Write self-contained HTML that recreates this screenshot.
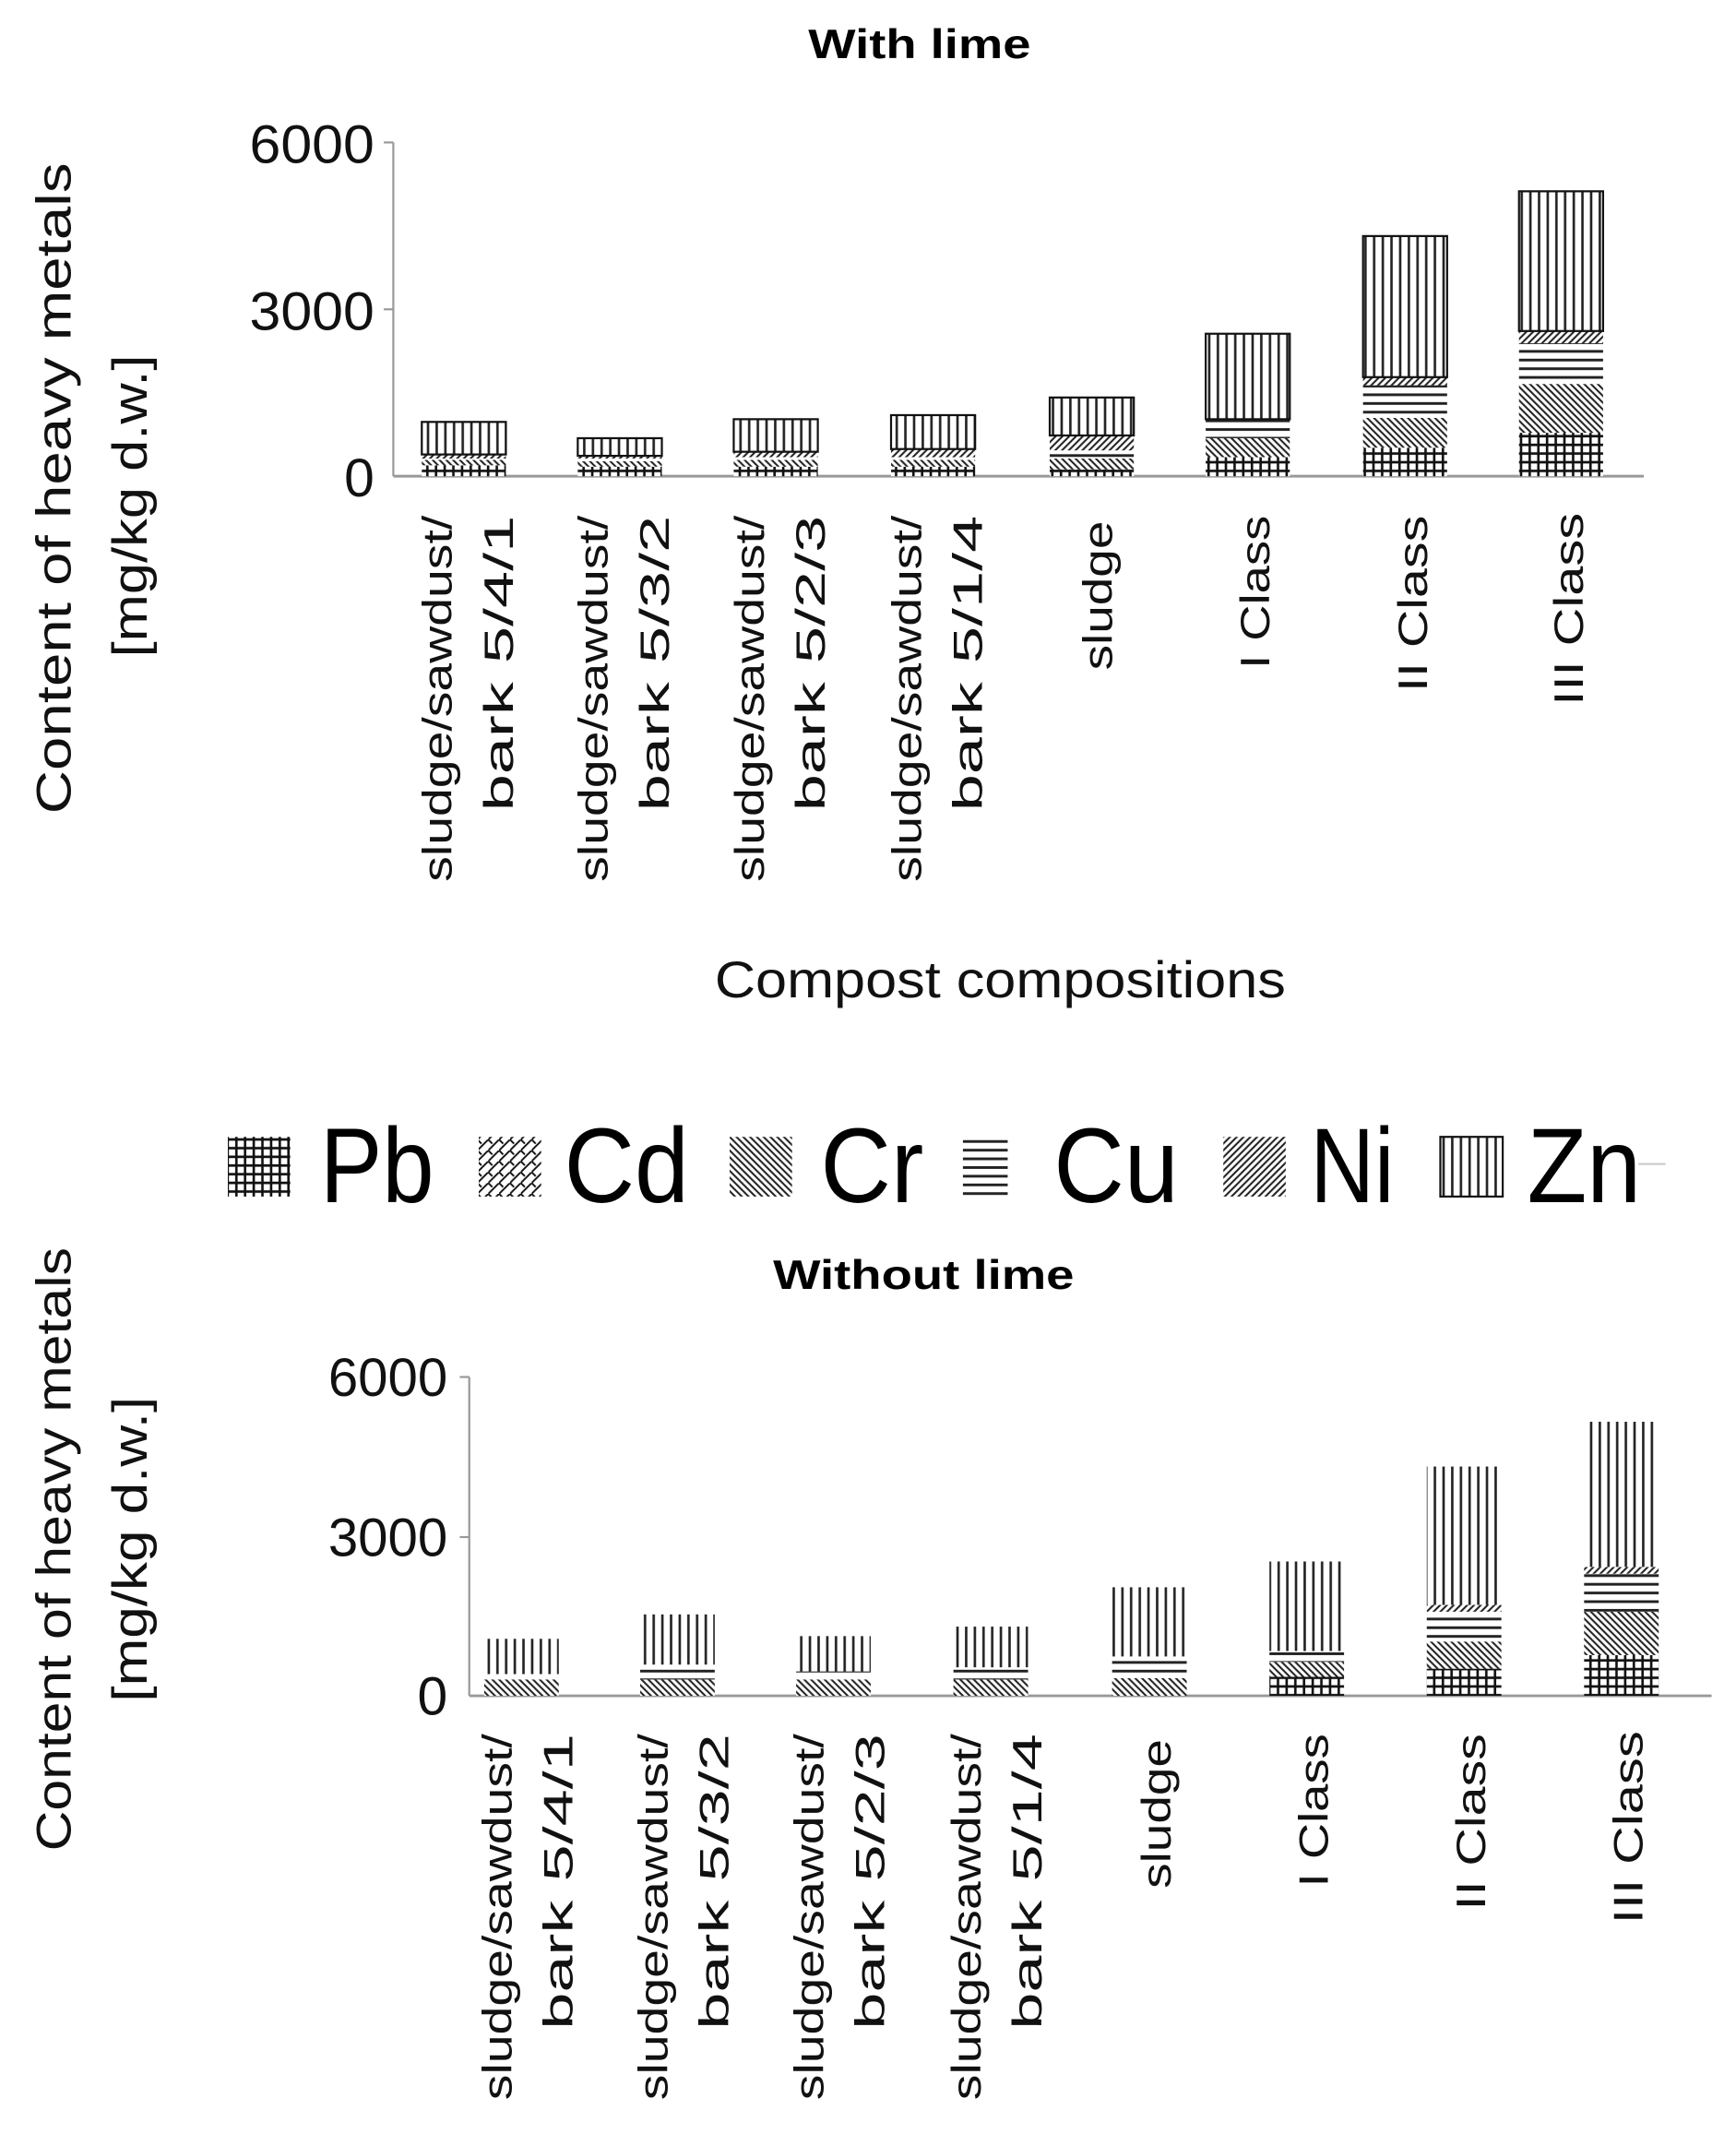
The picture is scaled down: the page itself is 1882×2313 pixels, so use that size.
<!DOCTYPE html>
<html><head><meta charset="utf-8"><style>html,body{margin:0;padding:0;background:#fff}svg{display:block}</style></head>
<body>
<svg xmlns="http://www.w3.org/2000/svg" width="1882" height="2313" viewBox="0 0 1280 1573" preserveAspectRatio="none" font-family="Liberation Sans, sans-serif">
<defs>
<pattern id="pb" width="6.4" height="6.4" patternUnits="userSpaceOnUse"><rect width="6.4" height="6.4" fill="#fff"/><path d="M1.5 0V6.4M0 1.5H6.4" stroke="#111" stroke-width="1.8"/></pattern>
<pattern id="cd" width="8" height="8" patternUnits="userSpaceOnUse"><rect width="8" height="8" fill="#fff"/><path d="M0 8L8 0M0 0L3 3" stroke="#111" stroke-width="1.3"/></pattern>
<pattern id="cr" width="5" height="5" patternUnits="userSpaceOnUse"><rect width="5" height="5" fill="#fff"/><path d="M0 0L5 5M-1 4L1 6M4 -1L6 1" stroke="#222" stroke-width="1.4"/></pattern>
<pattern id="cu" width="6.4" height="6.4" patternUnits="userSpaceOnUse"><rect width="6.4" height="6.4" fill="#fff"/><path d="M0 3H6.4" stroke="#222" stroke-width="2"/></pattern>
<pattern id="ni" width="5" height="5" patternUnits="userSpaceOnUse"><rect width="5" height="5" fill="#fff"/><path d="M0 5L5 0M-1 1L1 -1M4 6L6 4" stroke="#222" stroke-width="1.4"/></pattern>
<pattern id="zn" width="6.4" height="6.4" patternUnits="userSpaceOnUse"><rect width="6.4" height="6.4" fill="#fff"/><path d="M2 0V6.4" stroke="#222" stroke-width="1.8"/></pattern>
</defs>

<!-- TOP CHART -->
<text x="596" y="43" font-size="30" font-weight="bold" textLength="164" lengthAdjust="spacingAndGlyphs">With lime</text>
<g font-size="40" fill="#111" text-anchor="end">
<text x="276" y="120" textLength="92" lengthAdjust="spacingAndGlyphs">6000</text><text x="276" y="243" textLength="92" lengthAdjust="spacingAndGlyphs">3000</text><text x="276" y="366">0</text>
</g>
<line x1="290" y1="105" x2="290" y2="351" stroke="#999" stroke-width="1.5"/>
<line x1="283" y1="105" x2="290" y2="105" stroke="#999" stroke-width="1.5"/>
<line x1="283" y1="228" x2="290" y2="228" stroke="#999" stroke-width="1.5"/>
<line x1="290" y1="351" x2="1212" y2="351" stroke="#999" stroke-width="2"/>
<g>
<rect x="311" y="343" width="62" height="8" fill="url(#pb)"/><rect x="311" y="339" width="62" height="4" fill="url(#cr)"/><rect x="311" y="337" width="62" height="2" fill="url(#cu)"/><rect x="311" y="335" width="62" height="3" fill="url(#ni)"/>
<rect x="311" y="311" width="62" height="24" fill="url(#zn)" stroke="#111" stroke-width="1.5"/>
<rect x="426" y="344" width="62" height="7" fill="url(#pb)"/><rect x="426" y="340" width="62" height="4" fill="url(#cr)"/><rect x="426" y="338" width="62" height="2" fill="url(#cu)"/><rect x="426" y="336" width="62" height="2" fill="url(#ni)"/>
<rect x="426" y="323" width="62" height="13" fill="url(#zn)" stroke="#111" stroke-width="1.5"/>
<rect x="541" y="344" width="62" height="7" fill="url(#pb)"/><rect x="541" y="339" width="62" height="5" fill="url(#cr)"/><rect x="541" y="337" width="62" height="2" fill="url(#cu)"/><rect x="541" y="333" width="62" height="4" fill="url(#ni)"/>
<rect x="541" y="309" width="62" height="24" fill="url(#zn)" stroke="#111" stroke-width="1.5"/>
<rect x="657" y="344" width="62" height="7" fill="url(#pb)"/><rect x="657" y="339" width="62" height="5" fill="url(#cr)"/><rect x="657" y="337" width="62" height="2" fill="url(#cu)"/><rect x="657" y="331" width="62" height="6" fill="url(#ni)"/>
<rect x="657" y="306" width="62" height="25" fill="url(#zn)" stroke="#111" stroke-width="1.5"/>
<rect x="774" y="346" width="62" height="5" fill="url(#pb)"/><rect x="774" y="338" width="62" height="8" fill="url(#cr)"/><rect x="774" y="332" width="62" height="6" fill="url(#cu)"/><rect x="774" y="321" width="62" height="11" fill="url(#ni)"/>
<rect x="774" y="293" width="62" height="28" fill="url(#zn)" stroke="#111" stroke-width="1.5"/>
<rect x="889" y="337" width="62" height="14" fill="url(#pb)"/><rect x="889" y="323" width="62" height="14" fill="url(#cr)"/><rect x="889" y="309" width="62" height="14" fill="url(#cu)"/>
<rect x="889" y="246" width="62" height="63" fill="url(#zn)" stroke="#111" stroke-width="1.5"/>
<rect x="1005" y="330" width="62" height="21" fill="url(#pb)"/><rect x="1005" y="308" width="62" height="22" fill="url(#cr)"/><rect x="1005" y="284" width="62" height="24" fill="url(#cu)"/><rect x="1005" y="278" width="62" height="6" fill="url(#ni)"/>
<rect x="1005" y="174" width="62" height="104" fill="url(#zn)" stroke="#111" stroke-width="1.5"/>
<rect x="1120" y="319" width="62" height="32" fill="url(#pb)"/><rect x="1120" y="283" width="62" height="36" fill="url(#cr)"/><rect x="1120" y="253" width="62" height="30" fill="url(#cu)"/><rect x="1120" y="244" width="62" height="9" fill="url(#ni)"/>
<rect x="1120" y="141" width="62" height="103" fill="url(#zn)" stroke="#111" stroke-width="1.5"/>
</g>
<g font-size="30" fill="#111" text-anchor="end" lengthAdjust="spacingAndGlyphs">
<g transform="translate(333,380) rotate(-90)"><text textLength="270" lengthAdjust="spacingAndGlyphs">sludge/sawdust/</text></g>
<g transform="translate(378,380) rotate(-90)"><text textLength="218" lengthAdjust="spacingAndGlyphs">bark 5/4/1</text></g>
<g transform="translate(448,380) rotate(-90)"><text textLength="270" lengthAdjust="spacingAndGlyphs">sludge/sawdust/</text></g>
<g transform="translate(493,380) rotate(-90)"><text textLength="218" lengthAdjust="spacingAndGlyphs">bark 5/3/2</text></g>
<g transform="translate(563,380) rotate(-90)"><text textLength="270" lengthAdjust="spacingAndGlyphs">sludge/sawdust/</text></g>
<g transform="translate(608,380) rotate(-90)"><text textLength="218" lengthAdjust="spacingAndGlyphs">bark 5/2/3</text></g>
<g transform="translate(679,380) rotate(-90)"><text textLength="270" lengthAdjust="spacingAndGlyphs">sludge/sawdust/</text></g>
<g transform="translate(724,380) rotate(-90)"><text textLength="218" lengthAdjust="spacingAndGlyphs">bark 5/1/4</text></g>
<g transform="translate(820,384) rotate(-90)"><text textLength="110" lengthAdjust="spacingAndGlyphs">sludge</text></g>
<g transform="translate(936,380) rotate(-90)"><text textLength="113" lengthAdjust="spacingAndGlyphs">I Class</text></g>
<g transform="translate(1052,380) rotate(-90)"><text textLength="130" lengthAdjust="spacingAndGlyphs">II Class</text></g>
<g transform="translate(1167,378) rotate(-90)"><text textLength="142" lengthAdjust="spacingAndGlyphs">III Class</text></g>
</g>
<g font-size="36" fill="#111" text-anchor="middle">
<g transform="translate(52,360) rotate(-90)"><text textLength="480" lengthAdjust="spacingAndGlyphs">Content of heavy metals</text></g>
<g transform="translate(108,373) rotate(-90)"><text textLength="223" lengthAdjust="spacingAndGlyphs">[mg/kg d.w.]</text></g>
<g transform="translate(52,1142) rotate(-90)"><text textLength="445" lengthAdjust="spacingAndGlyphs">Content of heavy metals</text></g>
<g transform="translate(108,1142) rotate(-90)"><text textLength="225" lengthAdjust="spacingAndGlyphs">[mg/kg d.w.]</text></g>
</g>
<text x="527" y="735" font-size="38" fill="#111" textLength="421" lengthAdjust="spacingAndGlyphs">Compost compositions</text>

<!-- LEGEND -->
<g font-size="78" fill="#000">
<rect x="168" y="838" width="46" height="44" fill="url(#pb)"/><text x="236" y="886" textLength="84" lengthAdjust="spacingAndGlyphs">Pb</text>
<rect x="353" y="838" width="46" height="44" fill="url(#cd)"/><text x="416" y="886" textLength="92" lengthAdjust="spacingAndGlyphs">Cd</text>
<rect x="538" y="838" width="46" height="44" fill="url(#cr)"/><text x="605" y="886" textLength="76" lengthAdjust="spacingAndGlyphs">Cr</text>
<rect x="710" y="838" width="33" height="44" fill="url(#cu)"/><text x="777" y="886" textLength="92" lengthAdjust="spacingAndGlyphs">Cu</text>
<rect x="902" y="838" width="46" height="44" fill="url(#ni)"/><text x="966" y="886" textLength="62" lengthAdjust="spacingAndGlyphs">Ni</text>
<rect x="1062" y="838" width="46" height="44" fill="url(#zn)" stroke="#111" stroke-width="1.5"/><text x="1126" y="886" textLength="84" lengthAdjust="spacingAndGlyphs">Zn</text>
<line x1="1208" y1="858" x2="1228" y2="858" stroke="#ccc" stroke-width="1.5"/>
</g>

<!-- BOTTOM CHART -->
<text x="570" y="950" font-size="30" font-weight="bold" textLength="222" lengthAdjust="spacingAndGlyphs">Without lime</text>
<g font-size="40" fill="#111" text-anchor="end">
<text x="330" y="1029" textLength="88" lengthAdjust="spacingAndGlyphs">6000</text><text x="330" y="1147" textLength="88" lengthAdjust="spacingAndGlyphs">3000</text><text x="330" y="1264">0</text>
</g>
<line x1="346" y1="1015" x2="346" y2="1250" stroke="#999" stroke-width="1.5"/>
<line x1="339" y1="1015" x2="346" y2="1015" stroke="#999" stroke-width="1.5"/>
<line x1="339" y1="1133" x2="346" y2="1133" stroke="#999" stroke-width="1.5"/>
<line x1="346" y1="1250" x2="1262" y2="1250" stroke="#999" stroke-width="2"/>
<g>
<rect x="357" y="1238" width="55" height="12" fill="url(#cr)"/><rect x="357" y="1232" width="55" height="5" fill="url(#cu)"/><rect x="357" y="1208" width="55" height="26" fill="url(#zn)"/>
<rect x="472" y="1238" width="55" height="12" fill="url(#cr)"/><rect x="472" y="1227" width="55" height="11" fill="url(#cu)"/><rect x="472" y="1190" width="55" height="37" fill="url(#zn)"/>
<rect x="587" y="1238" width="55" height="12" fill="url(#cr)"/><rect x="587" y="1232" width="55" height="5" fill="url(#cu)"/><rect x="587" y="1206" width="55" height="26" fill="url(#zn)"/>
<rect x="703" y="1238" width="55" height="12" fill="url(#cr)"/><rect x="703" y="1229" width="55" height="9" fill="url(#cu)"/><rect x="703" y="1199" width="55" height="30" fill="url(#zn)"/>
<rect x="820" y="1237" width="55" height="13" fill="url(#cr)"/><rect x="820" y="1221" width="55" height="16" fill="url(#cu)"/><rect x="820" y="1170" width="55" height="51" fill="url(#zn)"/>
<rect x="936" y="1236" width="55" height="14" fill="url(#pb)"/><rect x="936" y="1225" width="55" height="11" fill="url(#cr)"/><rect x="936" y="1217" width="55" height="8" fill="url(#cu)"/><rect x="936" y="1151" width="55" height="66" fill="url(#zn)"/>
<rect x="1052" y="1230" width="55" height="20" fill="url(#pb)"/><rect x="1052" y="1210" width="55" height="20" fill="url(#cr)"/><rect x="1052" y="1188" width="55" height="22" fill="url(#cu)"/><rect x="1052" y="1183" width="55" height="5" fill="url(#ni)"/><rect x="1052" y="1081" width="55" height="102" fill="url(#zn)"/>
<rect x="1168" y="1220" width="55" height="30" fill="url(#pb)"/><rect x="1168" y="1188" width="55" height="32" fill="url(#cr)"/><rect x="1168" y="1160" width="55" height="28" fill="url(#cu)"/><rect x="1168" y="1155" width="55" height="5" fill="url(#ni)"/><rect x="1168" y="1048" width="55" height="107" fill="url(#zn)"/>
</g>
<g font-size="30" fill="#111" text-anchor="end">
<g transform="translate(377,1278) rotate(-90)"><text textLength="270" lengthAdjust="spacingAndGlyphs">sludge/sawdust/</text></g>
<g transform="translate(422,1278) rotate(-90)"><text textLength="218" lengthAdjust="spacingAndGlyphs">bark 5/4/1</text></g>
<g transform="translate(492,1278) rotate(-90)"><text textLength="270" lengthAdjust="spacingAndGlyphs">sludge/sawdust/</text></g>
<g transform="translate(537,1278) rotate(-90)"><text textLength="218" lengthAdjust="spacingAndGlyphs">bark 5/3/2</text></g>
<g transform="translate(607,1278) rotate(-90)"><text textLength="270" lengthAdjust="spacingAndGlyphs">sludge/sawdust/</text></g>
<g transform="translate(652,1278) rotate(-90)"><text textLength="218" lengthAdjust="spacingAndGlyphs">bark 5/2/3</text></g>
<g transform="translate(723,1278) rotate(-90)"><text textLength="270" lengthAdjust="spacingAndGlyphs">sludge/sawdust/</text></g>
<g transform="translate(768,1278) rotate(-90)"><text textLength="218" lengthAdjust="spacingAndGlyphs">bark 5/1/4</text></g>
<g transform="translate(863,1282) rotate(-90)"><text textLength="110" lengthAdjust="spacingAndGlyphs">sludge</text></g>
<g transform="translate(979,1278) rotate(-90)"><text textLength="113" lengthAdjust="spacingAndGlyphs">I Class</text></g>
<g transform="translate(1095,1278) rotate(-90)"><text textLength="130" lengthAdjust="spacingAndGlyphs">II Class</text></g>
<g transform="translate(1211,1276) rotate(-90)"><text textLength="142" lengthAdjust="spacingAndGlyphs">III Class</text></g>
</g>
</svg>
</body></html>
